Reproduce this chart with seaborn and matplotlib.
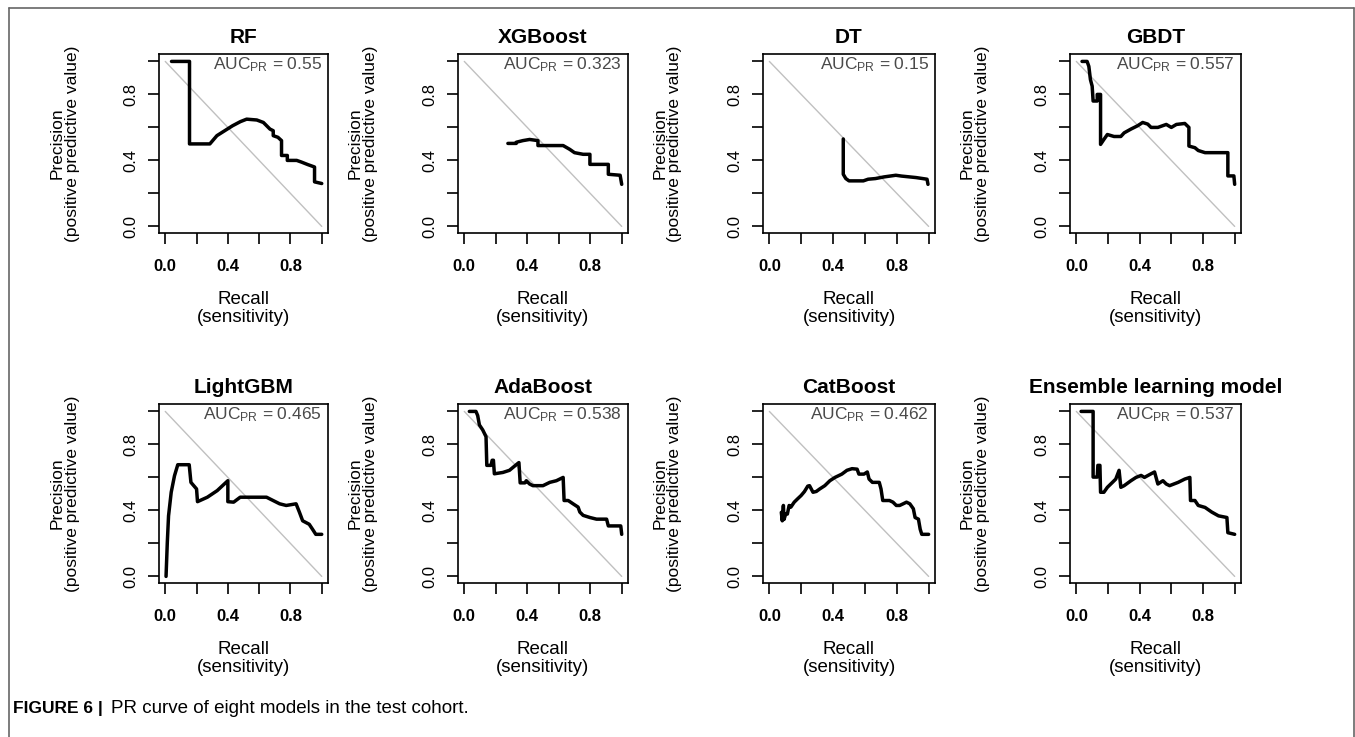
import matplotlib
matplotlib.use("Agg")
import matplotlib.pyplot as plt
from matplotlib.lines import Line2D
import seaborn as sns

# ---------------- data ----------------
models = ["RF", "XGBoost", "DT", "GBDT",
          "LightGBM", "AdaBoost", "CatBoost", "Ensemble learning model"]
auc_values = ["0.55", "0.323", "0.15", "0.557", "0.465", "0.538", "0.462", "0.537"]

rf_recall = [0.04, 0.155, 0.155, 0.285, 0.33, 0.38, 0.43, 0.48, 0.52, 0.585, 0.627,
             0.669, 0.69, 0.69, 0.72, 0.743, 0.743, 0.78, 0.78, 0.84, 0.87, 0.91,
             0.954, 0.954, 1.0]
rf_precision = [1.0, 1.0, 0.50, 0.50, 0.55, 0.58, 0.61, 0.635, 0.65, 0.645, 0.63,
                0.59, 0.58, 0.55, 0.54, 0.52, 0.43, 0.43, 0.40, 0.40, 0.39, 0.375,
                0.36, 0.27, 0.26]

xgb_recall = [0.277, 0.33, 0.33, 0.372, 0.415, 0.468, 0.468, 0.628, 0.67, 0.70,
              0.755, 0.798, 0.798, 0.915, 0.915, 0.99, 1.0]
xgb_precision = [0.503, 0.503, 0.51, 0.52, 0.527, 0.52, 0.49, 0.49, 0.467, 0.447,
                 0.437, 0.437, 0.376, 0.376, 0.316, 0.31, 0.255]

dt_recall = [0.464, 0.464, 0.48, 0.50, 0.59, 0.62, 0.666, 0.72, 0.794, 0.83,
             0.921, 0.99, 0.996]
dt_precision = [0.53, 0.316, 0.29, 0.276, 0.276, 0.286, 0.29, 0.30, 0.31, 0.305,
                0.296, 0.286, 0.255]

gbdt_recall = [0.036, 0.068, 0.079, 0.089, 0.10, 0.106, 0.132, 0.132, 0.153, 0.153,
               0.174, 0.196, 0.238, 0.281, 0.302, 0.345, 0.387, 0.419, 0.451, 0.472,
               0.515, 0.568, 0.60, 0.632, 0.685, 0.711, 0.711, 0.749, 0.77, 0.813,
               0.957, 0.957, 0.995, 1.0]
gbdt_precision = [1.0, 1.0, 0.97, 0.89, 0.85, 0.76, 0.76, 0.80, 0.80, 0.497,
                  0.527, 0.557, 0.545, 0.545, 0.567, 0.59, 0.61, 0.63, 0.62, 0.60,
                  0.60, 0.618, 0.60, 0.618, 0.624, 0.60, 0.487, 0.477, 0.46, 0.447,
                  0.447, 0.306, 0.306, 0.255]

lgbm_recall = [0.005, 0.013, 0.021, 0.038, 0.059, 0.08, 0.153, 0.164, 0.20, 0.206,
               0.269, 0.332, 0.40, 0.40, 0.437, 0.479, 0.647, 0.689, 0.731, 0.773,
               0.836, 0.857, 0.878, 0.92, 0.941, 0.962, 1.0]
lgbm_precision = [0.0, 0.204, 0.367, 0.51, 0.61, 0.677, 0.677, 0.57, 0.53, 0.453,
                  0.48, 0.52, 0.58, 0.453, 0.45, 0.48, 0.48, 0.46, 0.44, 0.43,
                  0.44, 0.39, 0.337, 0.316, 0.286, 0.255, 0.255]

ada_recall = [0.032, 0.074, 0.085, 0.096, 0.117, 0.138, 0.143, 0.17, 0.177, 0.185,
              0.191, 0.245, 0.287, 0.33, 0.347, 0.355, 0.385, 0.394, 0.415, 0.436,
              0.50, 0.543, 0.585, 0.628, 0.634, 0.66, 0.691, 0.723, 0.734, 0.755,
              0.798, 0.84, 0.904, 0.915, 0.994, 1.0]
ada_precision = [1.0, 1.0, 0.975, 0.918, 0.888, 0.847, 0.673, 0.673, 0.704, 0.704,
                 0.622, 0.63, 0.643, 0.677, 0.69, 0.567, 0.567, 0.58, 0.56, 0.55,
                 0.55, 0.57, 0.58, 0.60, 0.46, 0.46, 0.44, 0.42, 0.39, 0.37,
                 0.357, 0.347, 0.347, 0.306, 0.306, 0.255]

cat_recall = [0.075, 0.081, 0.088, 0.092, 0.103, 0.113, 0.124, 0.135, 0.156, 0.177,
              0.199, 0.22, 0.241, 0.252, 0.274, 0.295, 0.316, 0.348, 0.38, 0.412,
              0.455, 0.487, 0.519, 0.551, 0.562, 0.594, 0.615, 0.626, 0.647, 0.69,
              0.701, 0.712, 0.754, 0.776, 0.797, 0.818, 0.84, 0.861, 0.882, 0.904,
              0.915, 0.936, 0.947, 0.957, 1.0]
cat_precision = [0.388, 0.337, 0.43, 0.345, 0.38, 0.378, 0.43, 0.42, 0.45, 0.47,
                 0.49, 0.514, 0.547, 0.55, 0.51, 0.515, 0.53, 0.55, 0.58, 0.60,
                 0.62, 0.643, 0.653, 0.65, 0.62, 0.62, 0.633, 0.59, 0.57, 0.57,
                 0.53, 0.46, 0.46, 0.45, 0.43, 0.43, 0.44, 0.45, 0.44, 0.41,
                 0.357, 0.347, 0.286, 0.255, 0.255]

ens_recall = [0.03, 0.106, 0.106, 0.132, 0.136, 0.149, 0.153, 0.174, 0.196, 0.228,
              0.249, 0.27, 0.281, 0.302, 0.345, 0.377, 0.409, 0.43, 0.472, 0.494,
              0.515, 0.547, 0.568, 0.589, 0.643, 0.685, 0.717, 0.721, 0.749, 0.77,
              0.813, 0.855, 0.898, 0.951, 0.957, 1.0]
ens_precision = [1.0, 1.0, 0.602, 0.602, 0.673, 0.673, 0.51, 0.51, 0.54, 0.57,
                 0.59, 0.643, 0.54, 0.55, 0.58, 0.60, 0.612, 0.60, 0.622, 0.633,
                 0.56, 0.58, 0.56, 0.55, 0.57, 0.59, 0.60, 0.46, 0.46, 0.43,
                 0.418, 0.39, 0.367, 0.357, 0.265, 0.255]

recalls = [rf_recall, xgb_recall, dt_recall, gbdt_recall,
           lgbm_recall, ada_recall, cat_recall, ens_recall]
precisions = [rf_precision, xgb_precision, dt_precision, gbdt_precision,
              lgbm_precision, ada_precision, cat_precision, ens_precision]

diag_x = [0.0, 1.0]
diag_y = [1.0, 0.0]
tick_values = [0.0, 0.2, 0.4, 0.6, 0.8, 1.0]
tick_labels = ["0.0", "", "0.4", "", "0.8", ""]

# ---------------- style ----------------
sns.set_style("white")
plt.rcParams["font.family"] = ["Liberation Sans", "DejaVu Sans"]
plt.rcParams["mathtext.fontset"] = "custom"
plt.rcParams["mathtext.rm"] = "Liberation Sans"
plt.rcParams["mathtext.it"] = "Liberation Sans"
plt.rcParams["text.color"] = "black"
plt.rcParams["axes.labelcolor"] = "black"
plt.rcParams["xtick.color"] = "black"
plt.rcParams["ytick.color"] = "black"

W, H = 1355, 737
fig = plt.figure(figsize=(W / 100, H / 100), dpi=100)
fig.patch.set_facecolor("white")

col_px = [(159, 328), (458, 628), (763, 935), (1070, 1241)]
row_px = [(54, 233), (404, 583)]


def px_rect(l, r, t, b):
    return [l / W, 1 - b / H, (r - l) / W, (b - t) / H]


for i, name in enumerate(models):
    r, c = divmod(i, 4)
    l, rr = col_px[c]
    t, b = row_px[r]
    ax = fig.add_axes(px_rect(l, rr, t, b))
    ax.set_facecolor("white")

    sns.lineplot(x=diag_x, y=diag_y, ax=ax, color="#c0c0c0", lw=1.0,
                 sort=False, estimator=None)
    sns.lineplot(x=recalls[i], y=precisions[i], ax=ax, color="black", lw=2.5,
                 sort=False, estimator=None)

    ax.set_xlim(-0.04, 1.04)
    ax.set_ylim(-0.04, 1.045)
    ax.set_xticks(tick_values)
    ax.set_xticklabels(tick_labels, fontsize=12, fontweight="bold")
    ax.set_yticks(tick_values)
    ax.set_yticklabels(tick_labels, fontsize=12, rotation=90, va="center")
    ax.tick_params(axis="x", direction="out", length=8, width=1.2, pad=11,
                   bottom=True, colors="black")
    ax.tick_params(axis="y", direction="out", length=8, width=1.2, pad=7,
                   left=True, colors="black")
    for sp in ax.spines.values():
        sp.set_visible(True)
        sp.set_color("black")
        sp.set_linewidth(1.2)

    ax.set_title(name, fontsize=15, fontweight="bold", pad=8, color="black")
    ax.set_xlabel("Recall\n(sensitivity)", fontsize=13.5, linespacing=1.1)
    ax.xaxis.set_label_coords(0.5, -0.325)
    ax.set_ylabel("Precision\n(positive predictive value)", fontsize=12.5,
                  linespacing=1.0)
    ax.yaxis.set_label_coords(-0.47, 0.5)

    ax.text(1.0, 0.955, "AUC$_{\\mathrm{PR}}$ = " + auc_values[i], ha="right",
            va="baseline", fontsize=12.5, color="#4a4a4a")

# caption
fig.text(13 / W, 1 - 713 / H, "FIGURE 6 |", fontsize=12.5, fontweight="bold",
         ha="left", va="baseline", color="black")
fig.text(111 / W, 1 - 713 / H, "PR curve of eight models in the test cohort.",
         fontsize=13.5, ha="left", va="baseline", color="black")

# figure frame (open at bottom)
frame_c = "#666666"
fig.add_artist(Line2D([9 / W, 1354 / W], [1 - 8 / H, 1 - 8 / H],
                      transform=fig.transFigure, color=frame_c, lw=1.2))
fig.add_artist(Line2D([9 / W, 9 / W], [1 - 8 / H, 0],
                      transform=fig.transFigure, color=frame_c, lw=1.2))
fig.add_artist(Line2D([1354 / W, 1354 / W], [1 - 8 / H, 0],
                      transform=fig.transFigure, color=frame_c, lw=1.2))

fig.savefig("out.png", dpi=100, facecolor="white")
